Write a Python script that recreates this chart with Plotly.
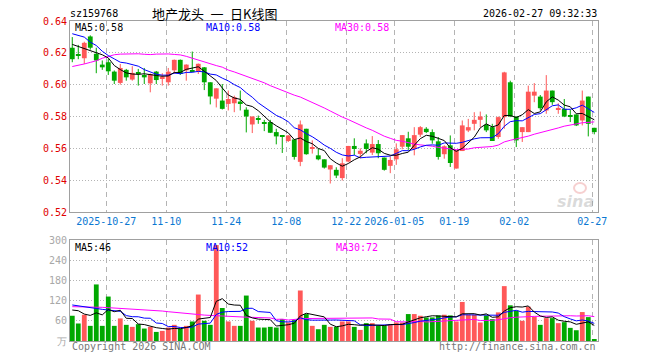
import plotly.graph_objects as go

# ---------------- data ----------------
dates = (["2025-10-%02d" % d for d in [17, 20, 21, 22, 23, 24, 27, 28, 29, 30, 31]]
         + ["2025-11-%02d" % d for d in [3, 4, 5, 6, 7, 10, 11, 12, 13, 14, 17, 18, 19, 20, 21, 24, 25, 26, 27, 28]]
         + ["2025-12-%02d" % d for d in [1, 2, 3, 4, 5, 8, 9, 10, 11, 12, 15, 16, 17, 18, 19, 22, 23, 24, 25, 26, 29, 30, 31]]
         + ["2026-01-%02d" % d for d in [5, 6, 7, 8, 9, 12, 13, 14, 15, 16, 19, 20, 21, 22, 23, 26, 27, 28, 29, 30]]
         + ["2026-02-%02d" % d for d in [2, 3, 4, 5, 6, 9, 10, 11, 12, 13, 24, 25, 26, 27]])

opens = [0.6232, 0.6190, 0.6166, 0.6303, 0.6194, 0.6126, 0.6141, 0.6082, 0.6011, 0.6093,
         0.6032, 0.6079, 0.6061, 0.6008, 0.6082, 0.6040, 0.6015, 0.6090, 0.6156, 0.6090,
         0.6092, 0.6085, 0.6109, 0.6015, 0.5912, 0.5900, 0.5879, 0.5883, 0.5894, 0.5843,
         0.5750, 0.5785, 0.5765, 0.5765, 0.5702, 0.5682, 0.5646, 0.5656, 0.5515, 0.5723,
         0.5598, 0.5556, 0.5531, 0.5467, 0.5465, 0.5413, 0.5517, 0.5615, 0.5565, 0.5631,
         0.5573, 0.5627, 0.5542, 0.5490, 0.5531, 0.5610, 0.5663, 0.5596, 0.5686, 0.5723,
         0.5702, 0.5644, 0.5563, 0.5619, 0.5473, 0.5583, 0.5712, 0.5754, 0.5779, 0.5748,
         0.5733, 0.5671, 0.5796, 0.6015, 0.5800, 0.5702, 0.5702, 0.5931, 0.5925, 0.5838,
         0.5963, 0.5846, 0.5848, 0.5806, 0.5813, 0.5775, 0.5925, 0.5729]
highs = [0.6299, 0.6250, 0.6270, 0.6310, 0.6232, 0.6152, 0.6162, 0.6089, 0.6130, 0.6099,
         0.6116, 0.6099, 0.6105, 0.6070, 0.6086, 0.6072, 0.6105, 0.6158, 0.6158, 0.6128,
         0.6208, 0.6133, 0.6111, 0.6015, 0.5977, 0.6004, 0.5963, 0.5931, 0.5963, 0.5858,
         0.5800, 0.5806, 0.5779, 0.5779, 0.5723, 0.5682, 0.5683, 0.5656, 0.5775, 0.5723,
         0.5650, 0.5598, 0.5531, 0.5494, 0.5481, 0.5538, 0.5615, 0.5663, 0.5600, 0.5656,
         0.5677, 0.5652, 0.5542, 0.5548, 0.5631, 0.5683, 0.5704, 0.5733, 0.5740, 0.5733,
         0.5719, 0.5671, 0.5619, 0.5681, 0.5588, 0.5775, 0.5785, 0.5827, 0.5831, 0.5813,
         0.5754, 0.5800, 0.6081, 0.6025, 0.5800, 0.5733, 0.5994, 0.6010, 0.5935, 0.6060,
         0.5963, 0.5883, 0.5910, 0.5842, 0.5813, 0.5963, 0.5925, 0.5729]
lows = [0.6141, 0.6160, 0.6130, 0.6220, 0.6072, 0.6093, 0.6061, 0.6004, 0.6000, 0.6025,
        0.6025, 0.5994, 0.6004, 0.5952, 0.6004, 0.5994, 0.5994, 0.6067, 0.6061, 0.6025,
        0.6078, 0.6067, 0.5966, 0.5876, 0.5857, 0.5844, 0.5838, 0.5827, 0.5838, 0.5700,
        0.5696, 0.5754, 0.5708, 0.5696, 0.5625, 0.5571, 0.5640, 0.5529, 0.5488, 0.5560,
        0.5567, 0.5525, 0.5473, 0.5379, 0.5413, 0.5398, 0.5513, 0.5558, 0.5538, 0.5569,
        0.5558, 0.5538, 0.5460, 0.5444, 0.5496, 0.5594, 0.5590, 0.5556, 0.5671, 0.5696,
        0.5629, 0.5529, 0.5535, 0.5483, 0.5473, 0.5583, 0.5702, 0.5713, 0.5733, 0.5702,
        0.5646, 0.5660, 0.5723, 0.5796, 0.5608, 0.5640, 0.5702, 0.5890, 0.5838, 0.5817,
        0.5873, 0.5817, 0.5796, 0.5765, 0.5740, 0.5744, 0.5675, 0.5688]
closes = [0.6160, 0.6183, 0.6263, 0.6232, 0.6152, 0.6109, 0.6084, 0.6025, 0.6105, 0.6046,
          0.6074, 0.6072, 0.6046, 0.6067, 0.6029, 0.6050, 0.6082, 0.6156, 0.6067, 0.6126,
          0.6082, 0.6131, 0.6015, 0.5926, 0.5977, 0.5848, 0.5910, 0.5921, 0.5883, 0.5800,
          0.5800, 0.5778, 0.5758, 0.5698, 0.5675, 0.5675, 0.5681, 0.5546, 0.5750, 0.5563,
          0.5606, 0.5531, 0.5479, 0.5494, 0.5429, 0.5506, 0.5615, 0.5596, 0.5585, 0.5596,
          0.5627, 0.5569, 0.5465, 0.5527, 0.5594, 0.5683, 0.5610, 0.5683, 0.5733, 0.5702,
          0.5650, 0.5546, 0.5613, 0.5508, 0.5588, 0.5744, 0.5733, 0.5779, 0.5800, 0.5713,
          0.5646, 0.5796, 0.6077, 0.5800, 0.5650, 0.5733, 0.5956, 0.5956, 0.5852, 0.5963,
          0.5890, 0.5854, 0.5800, 0.5798, 0.5744, 0.5900, 0.5754, 0.5702]
volumes = [75, 52, 78, 45, 168, 45, 132, 45, 67, 48,
           42, 50, 37, 42, 27, 30, 40, 48, 37, 45,
           58, 138, 60, 48, 285, 98, 58, 45, 45, 135,
           60, 40, 40, 42, 40, 65, 55, 62, 150, 80,
           45, 35, 48, 42, 42, 58, 58, 42, 33, 53,
           53, 45, 45, 48, 55, 55, 80, 80, 75, 70,
           70, 76, 78, 76, 58, 116, 78, 78, 55, 76,
           65, 85, 163, 106, 90, 60, 102, 72, 48, 68,
           68, 53, 56, 39, 32, 86, 71, 3]

# moving-average values before enough history is on screen
ma5_head = [0.6253, 0.6240, 0.6225, 0.6215]
ma10_head = [0.6320, 0.6309, 0.6299, 0.6267, 0.6246, 0.6210, 0.6183, 0.6162, 0.6141]
ma30_head = [0.6114, 0.6120, 0.6130, 0.6140, 0.6150, 0.6166, 0.6178, 0.6188, 0.6192, 0.6194,
             0.6195, 0.6194, 0.6191, 0.6189, 0.6192, 0.6194, 0.6193, 0.6190, 0.6187, 0.6178,
             0.6166, 0.6155, 0.6141, 0.6130, 0.6120, 0.6110, 0.6092, 0.6080, 0.6067]
vma5_head = [92, 90, 80, 76]
vma10_head = [107, 104, 101, 98, 96, 94, 92, 91, 88]
vma30_head = [102, 102, 101, 101, 100, 100, 99, 98, 98, 97, 96, 95, 93, 92, 90,
              89, 87, 85, 83, 81, 79, 77, 77, 76, 75, 73, 72, 72, 71]

tick_dates = ["2025-10-27", "2025-11-10", "2025-11-24", "2025-12-08", "2025-12-22",
              "2026-01-05", "2026-01-19", "2026-02-02", "2026-02-27"]
tick_text = ["2025-10-27", "11-10", "11-24", "12-08", "12-22", "2026-01-05", "01-19", "02-02", "02-27"]
price_ticks = [0.52, 0.54, 0.56, 0.58, 0.60, 0.62, 0.64]
vol_ticks = [0, 60, 120, 180, 240, 300]
vol_tick_text = ["万", "60", "120", "180", "240", "300"]

code = "sz159768"
title = "地产龙头\u2002一\u2002日K线图"
stamp = "2026-02-27 09:32:33"
price_ma_text = ["MA5:0.58", "MA10:0.58", "MA30:0.58"]
vol_ma_text = ["MA5:46", "MA10:52", "MA30:72"]


def moving_avg(vals, n, head):
    out = list(head)
    for i in range(n - 1, len(vals)):
        out.append(sum(vals[i - n + 1:i + 1]) / n)
    return out


# ---------------- styling ----------------
RED = "#ff5858"
GREEN = "#00a800"
MA_COLORS = ["#000000", "#0000ff", "#ff00ff"]
GRID = "#b4b4b4"
FRAME = "#a0a0a0"
MONO = "DejaVu Sans Mono"
CJK = "Noto Sans CJK SC"
L, R, T, B = 70, 62, 21, 19
W, H = 660, 360
PH = H - T - B
GRID_SHIFT = -1.0 / 3.0


def px_x(p):
    return (p - L) / (W - L - R)


def px_y(p):
    return (H - B - p) / PH


idx = list(range(len(dates)))
up = [c >= o for o, c in zip(opens, closes)]
colors = [RED if u else GREEN for u in up]

fig = go.Figure()

# wicks
for flag, color in ((True, RED), (False, GREEN)):
    wx, wy = [], []
    for i in idx:
        if up[i] == flag:
            wx += [i, i, None]
            wy += [lows[i], highs[i], None]
    fig.add_trace(go.Scatter(x=wx, y=wy, mode="lines", line=dict(color=color, width=1),
                             xaxis="x", yaxis="y", hoverinfo="skip", showlegend=False))

# bodies
body_base = [min(o, c) for o, c in zip(opens, closes)]
body_h = [max(abs(c - o), 0.0006) for o, c in zip(opens, closes)]
fig.add_trace(go.Bar(x=idx, y=body_h, base=body_base, width=0.8,
                     marker=dict(color=colors, line=dict(width=0)),
                     xaxis="x", yaxis="y", showlegend=False,
                     customdata=list(zip(dates, opens, highs, lows, closes))))

# price MAs
for n, head, col in ((30, ma30_head, MA_COLORS[2]), (10, ma10_head, MA_COLORS[1]), (5, ma5_head, MA_COLORS[0])):
    fig.add_trace(go.Scatter(x=idx, y=moving_avg(closes, n, head), mode="lines",
                             line=dict(color=col, width=1), xaxis="x", yaxis="y",
                             showlegend=False, hoverinfo="skip"))

# volume
fig.add_trace(go.Bar(x=idx, y=volumes, width=0.8, marker=dict(color=colors, line=dict(width=0)),
                     xaxis="x2", yaxis="y2", showlegend=False))
for n, head, col in ((30, vma30_head, MA_COLORS[2]), (10, vma10_head, MA_COLORS[1]), (5, vma5_head, MA_COLORS[0])):
    fig.add_trace(go.Scatter(x=idx, y=moving_avg(volumes, n, head), mode="lines",
                             line=dict(color=col, width=1), xaxis="x2", yaxis="y2",
                             showlegend=False, hoverinfo="skip"))

tickvals = [dates.index(d) + GRID_SHIFT for d in tick_dates]
xrange_ = [-0.38, len(dates) - 0.38]

common_x = dict(range=xrange_, tickvals=tickvals, showgrid=True, gridcolor=GRID, gridwidth=1,
                griddash="5px,4px", showline=True, mirror=True, linecolor=FRAME, linewidth=1,
                ticks="", zeroline=False, fixedrange=True)

fig.update_layout(
    width=W, height=H,
    margin=dict(l=L, r=R, t=T, b=B, pad=0),
    paper_bgcolor="white", plot_bgcolor="white",
    barmode="overlay", showlegend=False,
    font=dict(family=MONO, size=10, color="#000"),
    xaxis=dict(domain=[0, 1], anchor="y", ticktext=tick_text,
               tickfont=dict(family=MONO, size=10, color="#0a78d2"), **common_x),
    yaxis=dict(domain=[px_y(212), 1], anchor="x", range=[0.52, 0.64], tickvals=price_ticks,
               tickformat=".2f", tickfont=dict(family=MONO, size=10, color="#e00000"),
               showgrid=True, gridcolor=GRID, griddash="1px,2px", showline=True, mirror=True,
               linecolor=FRAME, zeroline=False, ticks="", fixedrange=True),
    xaxis2=dict(domain=[0, 1], anchor="y2", showticklabels=False, **common_x),
    yaxis2=dict(domain=[0, px_y(240)], anchor="x2", range=[0, 300], tickvals=vol_ticks,
                ticktext=vol_tick_text, tickfont=dict(family=MONO, size=10, color="#a8a8a8"),
                showgrid=True, gridcolor=GRID, griddash="1px,2px", showline=True, mirror=True,
                linecolor=FRAME, zeroline=False, ticks="", fixedrange=True),
)

ann = []
ann.append(dict(x=px_x(68), y=px_y(13), text=code, xanchor="left", font=dict(family=MONO, size=10)))
ann.append(dict(x=px_x(214), y=px_y(13), text=title, xanchor="center", font=dict(family=CJK, size=13)))
ann.append(dict(x=px_x(599), y=px_y(13), text=stamp, xanchor="right", font=dict(family=MONO, size=10)))
for txt, xp, col in zip(price_ma_text, (73, 204, 333), MA_COLORS):
    ann.append(dict(x=px_x(xp), y=px_y(27), text=txt, xanchor="left", font=dict(family=MONO, size=10, color=col)))
for txt, xp, col in zip(vol_ma_text, (73, 204, 334), MA_COLORS):
    ann.append(dict(x=px_x(xp), y=px_y(247), text=txt, xanchor="left", font=dict(family=MONO, size=10, color=col)))
ann.append(dict(x=px_x(70), y=px_y(346), text="Copyright 2026 SINA.COM", xanchor="left",
                font=dict(family=MONO, size=10, color="#777")))
ann.append(dict(x=px_x(598), y=px_y(346), text="http://finance.sina.com.cn", xanchor="right",
                font=dict(family=MONO, size=10, color="#777")))
ann.append(dict(x=px_x(596), y=px_y(201), text="<b><i>sina</i></b>", xanchor="right",
                font=dict(family="DejaVu Sans", size=16, color="rgba(150,150,150,0.35)")))
for a in ann:
    a.update(xref="paper", yref="paper", yanchor="middle", showarrow=False)
fig.update_layout(annotations=ann)
fig.add_shape(type="circle", xref="paper", yref="paper",
              x0=px_x(574), x1=px_x(586), y0=px_y(193), y1=px_y(183),
              line=dict(color="rgba(230,120,120,0.35)", width=2))

fig.write_html("out.html", config={"displayModeBar": False},
               post_script="document.body.style.margin='0';document.body.style.overflow='hidden';")
